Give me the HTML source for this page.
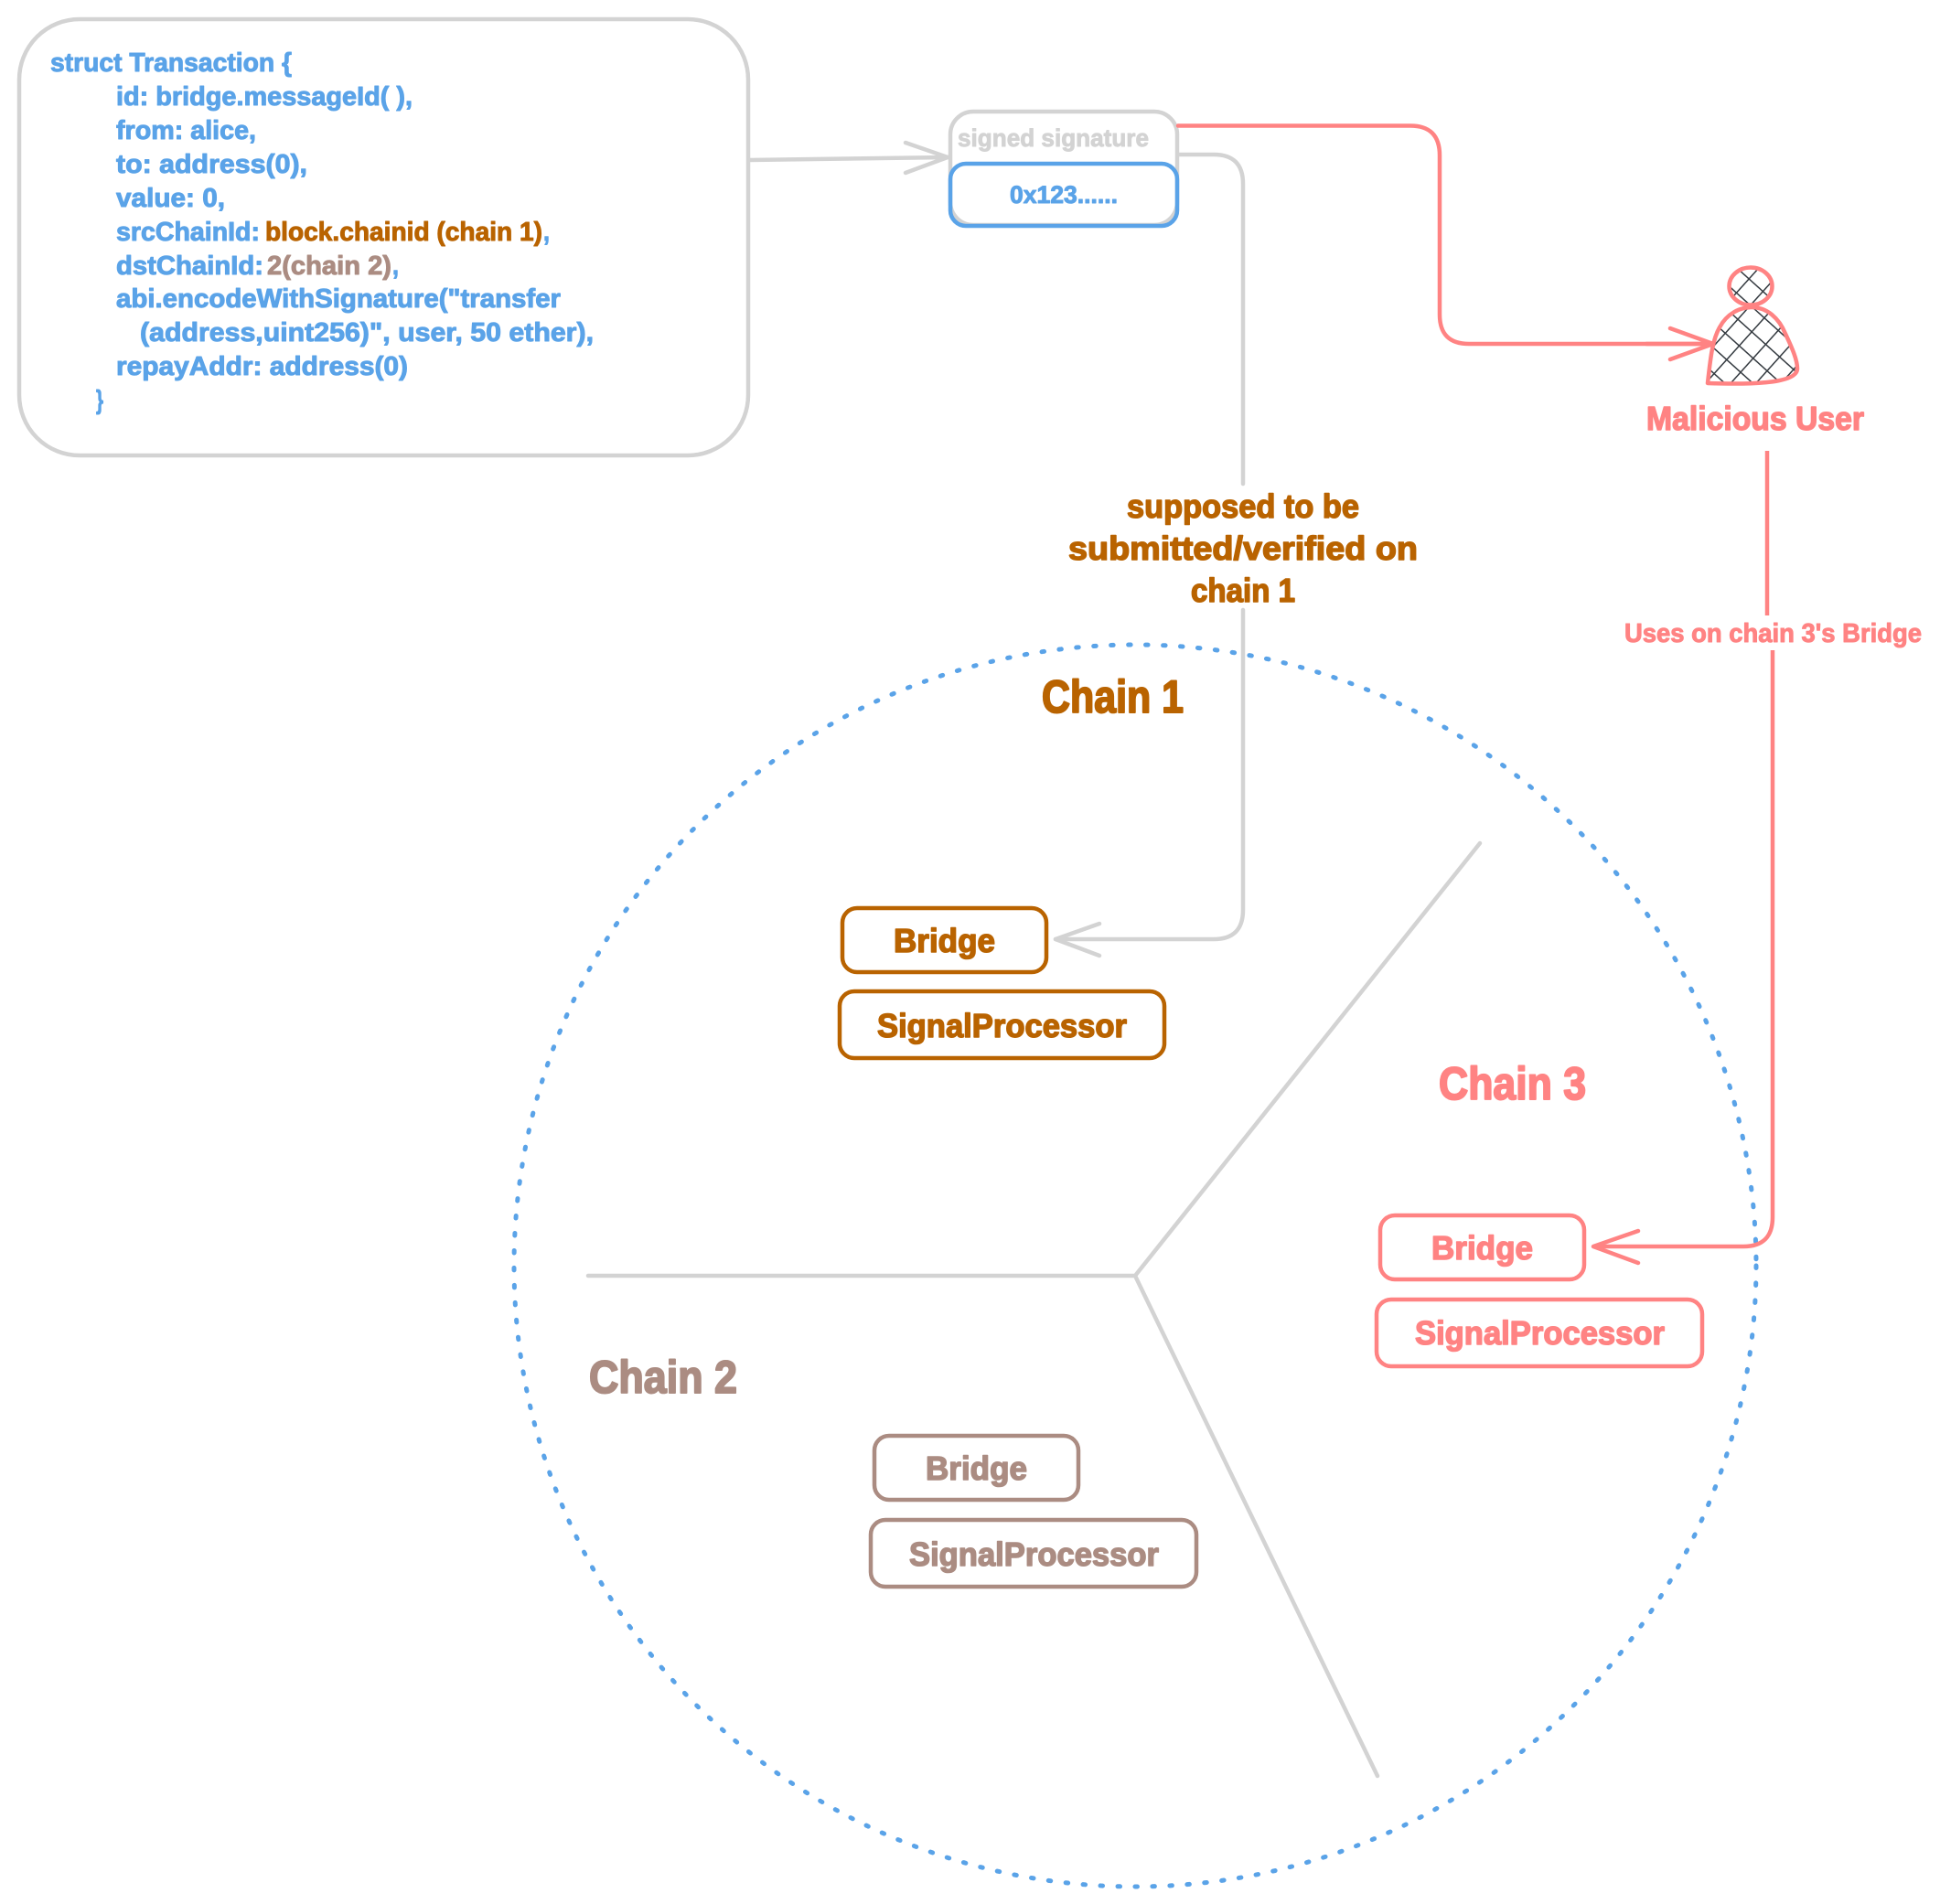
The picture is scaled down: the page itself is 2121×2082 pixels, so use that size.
<!DOCTYPE html>
<html>
<head>
<meta charset="utf-8">
<style>
html,body{margin:0;padding:0;background:#fff;width:2121px;height:2082px;overflow:hidden}
svg{display:block}
text{font-family:"Liberation Sans",sans-serif;font-weight:bold;stroke-linejoin:round}
.b{fill:#5aa3e8;stroke:#5aa3e8;stroke-width:1px;font-size:29px}
.o{fill:#b96300;stroke:#b96300}
.t{fill:#ab8c82;stroke:#ab8c82}
.p{fill:#ff8383;stroke:#ff8383}
.g{fill:#d3d3d3;stroke:#d3d3d3}
.f36{font-size:36px;stroke-width:1.5px}
.f50{font-size:50px;stroke-width:2px}
</style>
</head>
<body>
<svg xmlns="http://www.w3.org/2000/svg" width="2121" height="2082" viewBox="0 0 2121 2082">
<defs>
<pattern id="h" width="20.5" height="20.5" patternUnits="userSpaceOnUse" patternTransform="rotate(42 1914 313)">
<path d="M0 0H20.5M0 0V20.5" stroke="#343a40" stroke-width="3" fill="none"/>
</pattern>
</defs>

<!-- Struct box -->
<rect x="21" y="21" width="797" height="477" rx="66" fill="#fff" stroke="#d3d3d3" stroke-width="4.5"/>
<text class="b" x="55" y="78" textLength="264" lengthAdjust="spacingAndGlyphs">struct Transaction {</text>
<text class="b" x="127" y="115" textLength="324" lengthAdjust="spacingAndGlyphs">id: bridge.messageId( ),</text>
<text class="b" x="127" y="152" textLength="153" lengthAdjust="spacingAndGlyphs">from: alice,</text>
<text class="b" x="127" y="189" textLength="209" lengthAdjust="spacingAndGlyphs">to: address(0),</text>
<text class="b" x="127" y="226" textLength="119" lengthAdjust="spacingAndGlyphs">value: 0,</text>
<text class="b" x="127" y="263" textLength="157" lengthAdjust="spacingAndGlyphs">srcChainId:</text>
<text class="b" x="290" y="263" textLength="303" lengthAdjust="spacingAndGlyphs" style="fill:#b96300;stroke:#b96300">block.chainid (chain 1)</text>
<text class="b" x="594" y="263" textLength="7" lengthAdjust="spacingAndGlyphs">,</text>
<text class="b" x="127" y="300" textLength="161" lengthAdjust="spacingAndGlyphs">dstChainId:</text>
<text class="b" x="292" y="300" textLength="136" lengthAdjust="spacingAndGlyphs" style="fill:#ab8c82;stroke:#ab8c82">2(chain 2)</text>
<text class="b" x="429" y="300" textLength="7" lengthAdjust="spacingAndGlyphs">,</text>
<text class="b" x="127" y="336" textLength="486" lengthAdjust="spacingAndGlyphs">abi.encodeWithSignature("transfer</text>
<text class="b" x="153" y="373" textLength="496" lengthAdjust="spacingAndGlyphs">(address,uint256)", user, 50 ether),</text>
<text class="b" x="127" y="410" textLength="319" lengthAdjust="spacingAndGlyphs">repayAddr: address(0)</text>
<text class="b" x="105" y="447" textLength="8" lengthAdjust="spacingAndGlyphs">}</text>

<!-- Connectors in gray -->
<g fill="none" stroke="#d3d3d3" stroke-width="4.5" stroke-linecap="round" stroke-linejoin="round">
<path d="M820 175L1036 172"/>
<path d="M990 156L1036 172L990 189"/>
<path d="M1287 169H1327Q1359 169 1359 201V529"/>
<path d="M1359 667V995Q1359 1027 1327 1027H1154"/>
<path d="M1202 1010L1154 1027L1202 1045"/>
<path d="M643 1395H1241L1618 922"/>
<path d="M1241 1395L1506 1942"/>
</g>

<!-- Dotted circle -->
<circle cx="1241" cy="1384" r="679" fill="none" stroke="#5aa3e8" stroke-width="5" stroke-linecap="round" stroke-dasharray="2.5 16.5"/>

<!-- Signature boxes -->
<rect x="1039" y="122" width="248" height="124" rx="25" fill="#fff" stroke="#d3d3d3" stroke-width="4.5"/>
<rect x="1039" y="179" width="248" height="68" rx="17" fill="none" stroke="#5aa3e8" stroke-width="4.5"/>
<text class="g" x="1047" y="160" font-size="26" style="stroke-width:.9px;font-size:27px" textLength="209" lengthAdjust="spacingAndGlyphs">signed signature</text>
<text class="b" x="1104" y="222" style="font-size:27px" textLength="118" lengthAdjust="spacingAndGlyphs">0x123......</text>

<!-- Red connectors -->
<g fill="none" stroke="#ff8383" stroke-width="4.5" stroke-linecap="round" stroke-linejoin="round">
<path d="M1288 137.500H1542Q1574 137.500 1574 170V344Q1574 376 1606 376H1873"/>
<path d="M1932 493V673" stroke-linecap="butt"/>
<path d="M1938 711V1331Q1938 1363 1906 1363H1742" stroke-linecap="butt"/>
<path d="M1791 1346L1742 1363L1791 1381"/>
</g>

<!-- Person -->
<ellipse cx="1914" cy="313" rx="23.500" ry="20.500" fill="#fff"/>
<ellipse cx="1914" cy="313" rx="23.500" ry="20.500" fill="url(#h)" stroke="#ff8383" stroke-width="4.500"/>
<path d="M1867 419C1870 392 1872 372 1880 358C1888 343 1902 336 1915 336C1932 336 1945 348 1952 365C1960 382 1965 394 1965 403C1965 418 1925 421 1867 419Z" fill="#fff"/>
<path d="M1867 419C1870 392 1872 372 1880 358C1888 343 1902 336 1915 336C1932 336 1945 348 1952 365C1960 382 1965 394 1965 403C1965 418 1925 421 1867 419Z" fill="url(#h)" stroke="#ff8383" stroke-width="4.500" stroke-linejoin="round"/>
<path d="M1826 359L1873 376L1826 393M1800 376H1873" fill="none" stroke="#ff8383" stroke-width="4.500" stroke-linecap="round" stroke-linejoin="round"/>

<!-- Labels -->
<text class="p f36" x="1800" y="470" textLength="238" lengthAdjust="spacingAndGlyphs">Malicious User</text>
<text class="p" x="1776" y="702" font-size="29" style="stroke-width:1px" textLength="325" lengthAdjust="spacingAndGlyphs">Uses on chain 3's Bridge</text>
<text class="o f36" x="1232" y="566" textLength="254" lengthAdjust="spacingAndGlyphs">supposed to be</text>
<text class="o f36" x="1168" y="612" textLength="382" lengthAdjust="spacingAndGlyphs">submitted/verified on</text>
<text class="o f36" x="1302" y="658" textLength="114" lengthAdjust="spacingAndGlyphs">chain 1</text>

<!-- Chain 1 -->
<text class="o f50" x="1139" y="779" textLength="155" lengthAdjust="spacingAndGlyphs">Chain 1</text>
<rect x="921" y="993" width="223" height="70" rx="16" fill="#fff" stroke="#b96300" stroke-width="4.5"/>
<text class="o f36" x="977" y="1041" textLength="111" lengthAdjust="spacingAndGlyphs">Bridge</text>
<rect x="918" y="1084" width="355" height="73" rx="16" fill="#fff" stroke="#b96300" stroke-width="4.5"/>
<text class="o f36" x="959" y="1134" textLength="273" lengthAdjust="spacingAndGlyphs">SignalProcessor</text>

<!-- Chain 2 -->
<text class="t f50" x="644" y="1523" textLength="162" lengthAdjust="spacingAndGlyphs">Chain 2</text>
<rect x="956" y="1570" width="223" height="70" rx="16" fill="#fff" stroke="#ab8c82" stroke-width="4.5"/>
<text class="t f36" x="1012" y="1618" textLength="111" lengthAdjust="spacingAndGlyphs">Bridge</text>
<rect x="952" y="1662" width="356" height="73" rx="16" fill="#fff" stroke="#ab8c82" stroke-width="4.5"/>
<text class="t f36" x="994" y="1712" textLength="273" lengthAdjust="spacingAndGlyphs">SignalProcessor</text>

<!-- Chain 3 -->
<text class="p f50" x="1573" y="1202" textLength="161" lengthAdjust="spacingAndGlyphs">Chain 3</text>
<rect x="1509" y="1329" width="223" height="70" rx="16" fill="#fff" stroke="#ff8383" stroke-width="4.5"/>
<text class="p f36" x="1565" y="1377" textLength="111" lengthAdjust="spacingAndGlyphs">Bridge</text>
<rect x="1505" y="1421" width="356" height="73" rx="16" fill="#fff" stroke="#ff8383" stroke-width="4.5"/>
<text class="p f36" x="1547" y="1470" textLength="273" lengthAdjust="spacingAndGlyphs">SignalProcessor</text>
</svg>
</body>
</html>
